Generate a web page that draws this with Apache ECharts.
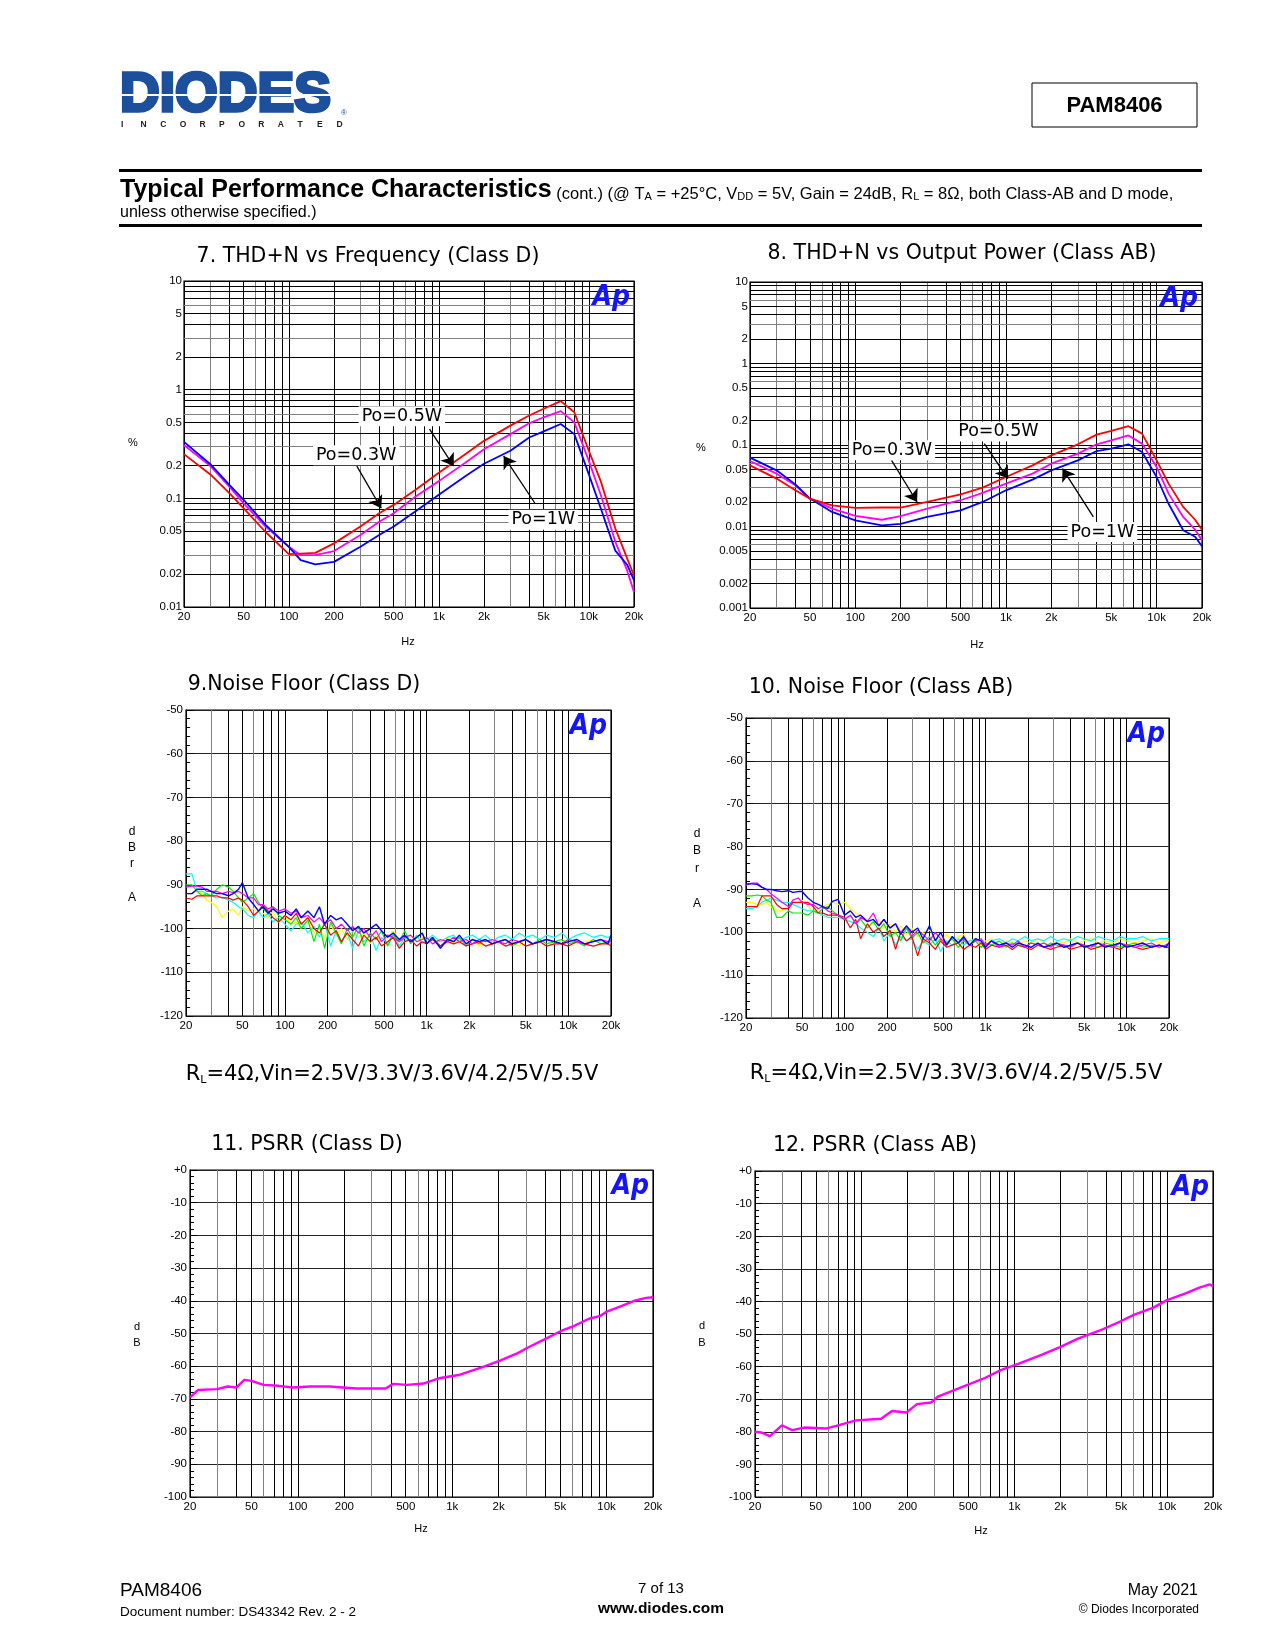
<!DOCTYPE html>
<html><head><meta charset="utf-8">
<script src="https://cdn.jsdelivr.net/npm/echarts@6/dist/echarts.min.js"></script>
<style>html,body{margin:0;padding:0;background:#fff}#c{width:1275px;height:1650px}</style>
</head><body><div id="c"></div>
<script>
// ---------------- DATA ----------------
// Fig 7: THD+N vs Frequency (Class D)
const thd7Freq = [20, 30, 40, 50, 70, 100, 120, 150, 200, 300, 400, 500, 700, 1000, 1500, 2000, 3000, 4000, 5000, 6500, 8000, 10000, 12000, 15000, 18000, 20000];
const thd7Red = [0.255, 0.166, 0.112, 0.081, 0.049, 0.0306, 0.031, 0.0315, 0.0385, 0.055, 0.073, 0.087, 0.12, 0.172, 0.255, 0.338, 0.467, 0.578, 0.667, 0.785, 0.62, 0.274, 0.144, 0.053, 0.028, 0.0195];
const thd7Magenta = [0.31, 0.198, 0.129, 0.09, 0.055, 0.0358, 0.030, 0.030, 0.0327, 0.046, 0.061, 0.073, 0.104, 0.144, 0.213, 0.283, 0.39, 0.49, 0.557, 0.634, 0.5, 0.221, 0.108, 0.040, 0.0217, 0.0137];
const thd7Blue = [0.331, 0.206, 0.134, 0.097, 0.057, 0.0358, 0.027, 0.0247, 0.026, 0.0358, 0.046, 0.055, 0.076, 0.108, 0.16, 0.208, 0.274, 0.363, 0.413, 0.483, 0.39, 0.166, 0.081, 0.033, 0.0245, 0.0176];
const thd7Labels = ['Po=0.5W', 'Po=0.3W', 'Po=1W'];
const thd7LabelAt = [[567, 0.569], [281, 0.249], [4970, 0.0634]];
const thd7Arrows = [[867, 0.434, 1256, 0.198], [284, 0.198, 413, 0.081], [4360, 0.0906, 2705, 0.245]];

// Fig 8: THD+N (Class AB)
const thd8Freq = [20, 30, 40, 50, 70, 100, 150, 200, 300, 500, 700, 1000, 1500, 2000, 3000, 4000, 5000, 6500, 8000, 10000, 12000, 15000, 18000, 20000];
const thd8Red = [0.0563, 0.0387, 0.0278, 0.022, 0.0182, 0.0169, 0.0171, 0.0171, 0.02, 0.0248, 0.03, 0.0405, 0.0563, 0.0746, 0.102, 0.134, 0.149, 0.17, 0.138, 0.0648, 0.0336, 0.0174, 0.0121, 0.00914];
const thd8Magenta = [0.0637, 0.0445, 0.032, 0.022, 0.0166, 0.0135, 0.0121, 0.0134, 0.0166, 0.021, 0.0258, 0.0336, 0.0445, 0.059, 0.0783, 0.102, 0.114, 0.131, 0.104, 0.0537, 0.0253, 0.0131, 0.00914, 0.00676];
const thd8Blue = [0.07, 0.0489, 0.0329, 0.022, 0.0151, 0.0119, 0.0103, 0.0108, 0.0131, 0.0158, 0.02, 0.0278, 0.0376, 0.0489, 0.0648, 0.0843, 0.0902, 0.102, 0.082, 0.0405, 0.019, 0.00898, 0.0075, 0.00571];
const thd8Labels = ['Po=0.5W', 'Po=0.3W', 'Po=1W'];
const thd8LabelAt = [[891, 0.146], [175, 0.0861], [4366, 0.00857]];
const thd8Arrows = [[718, 0.1038, 1031, 0.0387], [174, 0.0648, 257, 0.02], [3801, 0.0131, 2371, 0.0513]];

// Noise floor sweeps (shared frequency points)
const nfFreq = [
  20, 22, 24, 26, 28, 30, 33, 36, 40, 43, 47, 50,
  55, 60, 65, 70, 76, 82, 90, 100, 110, 120, 130, 145,
  160, 175, 190, 210, 230, 250, 275, 300, 330, 360, 400, 440,
  480, 530, 580, 640, 700, 770, 850, 930, 1000, 1100, 1250, 1400,
  1550, 1700, 1900, 2100, 2350, 2600, 2900, 3200, 3600, 4000, 4500, 5000,
  5600, 6300, 7000, 8000, 9000, 10000, 11500, 13000, 15000, 17000, 19000, 20000];

// Fig 9: Noise floor Class D
const nf9Cyan = [
  -87.5, -87.5, -91.5, -91.5, -92, -92.5, -93, -92.8, -93.5, -94, -95, -95.5,
  -97, -97.5, -96, -97.5, -96.5, -98.5, -97.5, -99, -100.5, -99, -98.5, -101,
  -99.5, -102, -98.5, -104, -100.5, -103, -101, -104.5, -100.5, -103, -101.5, -105,
  -102, -103.5, -101, -104, -102, -103, -101.5, -103.5, -102.5, -101.5, -103, -102,
  -101.5, -103, -102, -101.5, -102.5, -101.5, -103, -102, -101.5, -102.5, -101, -102,
  -101.5, -102.5, -101.5, -102, -101, -102.5, -101.5, -101, -102, -101.5, -102, -101.8];
const nf9Green = [
  -90, -90, -91.5, -92.5, -92, -92.5, -91, -90, -90.5, -91.5, -93, -94,
  -93, -92, -94, -95.5, -96.5, -95, -97, -98, -99, -97.5, -100, -98,
  -103, -99, -104.5, -98.5, -101, -103.5, -100, -102, -99.5, -104, -101, -102.5,
  -100.5, -104, -101.5, -103, -100.5, -103.5, -102, -101, -103.5, -102, -104, -102.5,
  -103, -102, -104, -102.5, -103.5, -102.5, -103.5, -103, -102.5, -104, -103, -102.5,
  -103.5, -102.5, -103.5, -103, -102.5, -103.5, -103, -104, -102.5, -103.5, -103, -103.5];
const nf9Yellow = [
  -92, -92, -91.5, -92, -93.5, -94, -95, -97.5, -96, -95.5, -97, -95,
  -96, -95.5, -96.5, -96.5, -97.5, -96, -98.5, -97, -99, -98.5, -100, -98,
  -101, -100, -102, -99, -101.5, -100, -102.5, -100.5, -102, -101, -103.5, -101.5,
  -103, -102, -100.5, -102.5, -103, -101.5, -103, -102, -103.5, -102.5, -103, -102,
  -103.5, -102.5, -103, -102.5, -104, -102.5, -103, -103.5, -102.5, -103, -104, -102.5,
  -103.5, -103, -102.5, -103.5, -103, -102.5, -103.5, -103, -102.5, -103, -103.5, -103];
const nf9Red = [
  -93, -93.3, -92.5, -92.5, -92.5, -92.5, -92.5, -93, -93, -93.5, -93, -93.5,
  -95, -97, -96, -94.5, -96, -97.5, -98.5, -97, -98, -96.5, -99, -97.5,
  -100, -101, -99, -101.5, -100.5, -103, -101, -102.5, -104, -101.5, -103, -102,
  -104, -103, -102, -104.5, -103, -102.5, -104, -103, -103.5, -102.5, -104, -103,
  -103.5, -103, -104, -103.5, -103, -104, -103.5, -103, -104, -103.5, -103, -104,
  -103.5, -103, -104, -103.5, -103.5, -104, -103, -103.5, -104, -103.5, -103.5, -104];
const nf9Magenta = [
  -90.5, -90.3, -90.3, -90.5, -91.5, -91.5, -91.5, -92, -91.5, -91.8, -91.5, -92,
  -93, -93, -94.5, -94.5, -95.5, -95, -96, -95.5, -96.5, -96, -97.5, -97,
  -98.5, -97.5, -99, -98, -100, -99, -100.5, -99.5, -101, -100, -102, -100.5,
  -103, -101.5, -102, -103, -102, -101.5, -103, -102.5, -102, -103.5, -102.5, -103,
  -102, -103, -102.5, -103.5, -102.5, -103, -102.5, -103, -103.5, -102.5, -103, -102.5,
  -103.5, -103, -102.5, -103, -103.5, -102.5, -103, -103.5, -103, -102.5, -103, -103];
const nf9Blue = [
  -92, -92, -91, -91, -91, -91.5, -92, -92, -92.5, -92, -91, -89.5,
  -93, -94.5, -96, -95, -96.5, -95.5, -96.5, -96, -97, -95.5, -97.5, -96,
  -97.5, -95, -99, -97, -98, -97.5, -99, -100.5, -99.5, -101, -100, -99,
  -100.5, -102, -101, -102.5, -101.5, -103, -102, -101, -103.5, -102, -104.5, -102.5,
  -103, -101.5, -103.5, -102.5, -103, -102.5, -103.5, -103, -102.5, -103.5, -103, -102.5,
  -103.5, -103, -102.5, -103, -103.5, -103, -102.5, -103.5, -103, -102.5, -103.5, -101.5];

// Fig 10: Noise floor Class AB
const nf10Blue = [
  -88.7, -88.7, -88.8, -89.5, -90, -90, -90.3, -90.5, -90.3, -90.7, -90.5, -90.5,
  -92, -93, -93.5, -94, -94.5, -92.8, -92.3, -96, -95, -96.5, -96, -97.5,
  -97, -98.5, -97, -99, -98, -100.5, -98.5, -100, -99, -101.5, -98.5, -102,
  -100, -103, -101, -102.5, -101, -103, -101.5, -102, -103.5, -102, -103, -102.5,
  -103.5, -102.5, -103, -103.5, -102.5, -103.5, -103, -102.5, -103.5, -103, -102.5, -103.5,
  -103, -102.5, -103.5, -103, -102.5, -103.5, -103, -102.5, -103.5, -103, -103.5, -102.5];
const nf10Magenta = [
  -89, -88.5, -88.5, -89.5, -90, -91, -92, -93, -94, -92.5, -92, -93,
  -93.5, -93.5, -94.5, -94, -95, -95.5, -96, -97, -96, -98, -96.5, -97.5,
  -95.5, -98.5, -97, -99, -98, -100, -98.5, -101, -99.5, -100.5, -102, -100,
  -101.5, -103, -101, -102.5, -101.5, -103, -102, -101.5, -103, -102, -103.5, -102.5,
  -103, -102, -103.5, -102.5, -103, -102.5, -103.5, -102.5, -103, -103.5, -102.5, -103,
  -103.5, -102.5, -103, -103.5, -102.5, -103, -103.5, -103, -102.5, -103.5, -103, -102.5];
const nf10Green = [
  -91.5, -91.5, -91.3, -91.5, -92.5, -93, -96.5, -96.5, -95, -95.5, -95.5, -95.5,
  -96, -95, -95.5, -94.5, -94, -95, -96, -97, -96, -98, -97, -99,
  -97.5, -99.5, -98, -101, -100, -102, -99, -101.5, -100, -102.5, -101, -103,
  -101.5, -102.5, -101.5, -103.5, -102, -103, -102, -103.5, -102.5, -103, -102, -103.5,
  -102.5, -103, -103.5, -102.5, -103, -103.5, -102.5, -103, -103.5, -103, -102.5, -103.5,
  -103, -103.5, -102.5, -103, -103.5, -103, -102.5, -103.5, -103, -103.5, -103, -103];
const nf10Red = [
  -94, -94, -94, -91.5, -91.5, -91.5, -93.5, -94.5, -94.5, -93, -93, -93,
  -93, -94, -95.5, -95.5, -96, -96, -96, -96.5, -99, -97, -101.5, -98,
  -100, -99, -101, -99.5, -104, -100, -102, -101, -105.5, -101.5, -102.5, -104,
  -102, -103.5, -103, -102.5, -104, -103, -103.5, -102.5, -104, -103, -103.5, -103,
  -104, -103, -103.5, -104, -103, -103.5, -104, -103.5, -103, -104, -103.5, -103,
  -104, -103.5, -103, -103.5, -104, -103, -103.5, -104, -103.5, -103, -103.5, -103.5];
const nf10Cyan = [
  -94.5, -94.5, -94, -93, -92.5, -92, -92.5, -93, -93, -93.5, -94, -94.5,
  -95, -95, -95.5, -96, -96.5, -96.5, -96.5, -97, -97.5, -98, -99, -100,
  -101, -99, -102, -100, -103, -101, -102, -101.5, -104, -102, -103, -101.5,
  -104.5, -102, -103, -101.5, -103, -102, -101.5, -102.5, -103, -102, -101.5, -102.5,
  -101.5, -102, -101, -102, -101.5, -102, -101, -102, -101.5, -102, -101, -101.5,
  -102, -101, -101.5, -102, -101, -101.5, -101.5, -101, -102, -101.5, -101.5, -101.5];
const nf10Yellow = [
  -93, -93, -93.5, -93.5, -93, -94, -95, -95, -94, -93.5, -93, -92.5,
  -94, -95, -94.5, -94, -93.5, -93, -93.5, -93, -94.5, -95.5, -96, -97,
  -98, -97, -99, -98, -100, -98.5, -100.5, -99, -101, -100, -99.5, -101,
  -102, -100.5, -102, -101, -100.5, -102.5, -101.5, -103, -102, -101.5, -103, -102,
  -102.5, -103, -102, -102.5, -101.5, -102.5, -103, -102, -102.5, -101.5, -102.5, -102,
  -101.5, -102.5, -102, -102.5, -101.5, -102, -102.5, -102, -101.5, -102.5, -102, -102];

// Fig 11: PSRR Class D
const psrrDFreq = [20, 22.5, 30, 35, 40, 45, 50, 60, 75, 93, 120, 160, 240, 370, 415, 510, 650, 820, 1100, 1570, 2040, 2660, 3120, 3960, 5030, 6070, 7700, 9040, 10050, 12450, 15400, 18100, 20000];
const psrrD = [-69.5, -67.3, -67, -66.2, -66.5, -64.2, -64.5, -65.7, -66, -66.5, -66.2, -66.2, -66.8, -66.8, -65.4, -65.7, -65.3, -63.7, -62.7, -60.3, -58.3, -56, -54.2, -51.8, -49.3, -47.8, -45.5, -44.7, -43.3, -41.6, -39.9, -39.1, -38.9];
// Fig 12: PSRR Class AB
const psrrABFreq = [20, 22, 25, 30, 35, 42, 58, 68, 92, 134, 158, 196, 230, 285, 318, 416, 488, 640, 815, 1070, 1520, 1990, 2610, 3600, 4970, 6160, 8070, 10000, 13100, 16300, 19100, 20000];
const psrrAB = [-80, -80.2, -81.3, -78, -79.5, -78.7, -79, -78.2, -76.5, -76, -73.6, -74.1, -71.5, -71, -69.1, -67, -65.7, -63.5, -61.1, -59.1, -56.3, -54, -51.4, -49, -46.1, -44, -42, -39.6, -37.6, -35.8, -34.8, -35.3];

// Tick labels
const xTickVals = [20, 50, 100, 200, 500, 1000, 2000, 5000, 10000, 20000];
const xTickLabels = ['20', '50', '100', '200', '500', '1k', '2k', '5k', '10k', '20k'];
const yTick7 = [10, 5, 2, 1, 0.5, 0.2, 0.1, 0.05, 0.02, 0.01];
const yTick7Labels = ['10', '5', '2', '1', '0.5', '0.2', '0.1', '0.05', '0.02', '0.01'];
const yTick8 = [10, 5, 2, 1, 0.5, 0.2, 0.1, 0.05, 0.02, 0.01, 0.005, 0.002, 0.001];
const yTick8Labels = ['10', '5', '2', '1', '0.5', '0.2', '0.1', '0.05', '0.02', '0.01', '0.005', '0.002', '0.001'];

// ---------------- LAYOUT / STYLE ----------------
const FONT = '"Liberation Sans", Arial, Helvetica, sans-serif';
const WIDE = '"DejaVu Sans", "Liberation Sans", sans-serif';
const COND = '"DejaVu Sans Condensed", "DejaVu Sans", "Liberation Sans", sans-serif';
const layout = [
  { left: 184, top: 281, width: 450, height: 326 },
  { left: 750, top: 282, width: 452, height: 326 },
  { left: 186, top: 710, width: 425, height: 306 },
  { left: 746, top: 718, width: 423, height: 300 },
  { left: 190, top: 1170, width: 463, height: 327 },
  { left: 755, top: 1171, width: 458, height: 326 }
];
const yRanges = [[0.01, 10], [0.001, 10], [-120, -50], [-120, -50], [-100, 0], [-100, 0]];
const C = { red: '#ff0000', magenta: '#ff00ff', blue: '#0000ff', green: '#00ee00', yellow: '#ffff00', cyan: '#00ffff' };

function logValues(min, max) {
  const out = [];
  for (let e = -4; e <= 5; e++) {
    for (let m = 1; m <= 9; m++) {
      const v = parseFloat((m * Math.pow(10, e)).toPrecision(6));
      if (v >= min * 0.9999 && v <= max * 1.0001) out.push({ v, m });
    }
  }
  return out;
}
const labelStyle = { fontSize: 11.5, color: '#000', fontFamily: FONT };

function gridSeries(i, yLog, yTicks, yTickLabels) {
  const [yMin, yMax] = yRanges[i];
  const lines = [];
  logValues(20, 20000).forEach(({ v, m }) => {
    const li = xTickVals.indexOf(v);
    lines.push([
      { coord: [v, yMin], lineStyle: { color: (m === 3 || m === 6) ? '#808080' : '#000' },
        label: li >= 0 ? Object.assign({ show: true, position: 'start', distance: 4, formatter: xTickLabels[li] }, labelStyle) : { show: false } },
      { coord: [v, yMax] }
    ]);
  });
  if (yLog) {
    logValues(yMin, yMax).forEach(({ v, m }) => {
      const li = yTicks.indexOf(v);
      lines.push([
        { coord: [20, v], lineStyle: { color: (m === 3 || m === 6) ? '#808080' : '#000' },
          label: li >= 0 ? Object.assign({ show: true, position: 'start', distance: 2, formatter: yTickLabels[li] }, labelStyle) : { show: false } },
        { coord: [20000, v] }
      ]);
    });
  }
  return {
    type: 'line', xAxisIndex: i, yAxisIndex: i, data: [], silent: true, animation: false,
    markLine: {
      silent: true, animation: false, z: 1, symbol: ['none', 'none'],
      lineStyle: { type: 'solid', width: 1, color: '#000' },
      label: { show: false }, emphasis: { disabled: true },
      data: lines
    }
  };
}

function curve(i, freqs, vals, color, width, extra) {
  return Object.assign({
    type: 'line', xAxisIndex: i, yAxisIndex: i,
    data: freqs.map((f, k) => [f, vals[k]]),
    showSymbol: false, symbol: 'none', silent: true, animation: false, z: 3,
    lineStyle: { color: color, width: width }, itemStyle: { color: color }
  }, extra || {});
}

function labelMarks(labels, at) {
  return {
    silent: true, animation: false, symbol: 'rect', symbolSize: 1,
    itemStyle: { color: 'rgba(0,0,0,0)' },
    label: { show: true, position: 'inside', formatter: '{b}', fontSize: 17.5, color: '#000',
      backgroundColor: '#fff', padding: [1, 3], fontFamily: WIDE },
    data: labels.map((t, k) => ({ name: t, coord: at[k] }))
  };
}
function arrowMarks(arrows) {
  return {
    silent: true, animation: false, symbol: ['none', 'arrow'], symbolSize: 12,
    lineStyle: { color: '#000', width: 1.3, type: 'solid' }, label: { show: false },
    emphasis: { disabled: true },
    data: arrows.map(a => [{ coord: [a[0], a[1]] }, { coord: [a[2], a[3]] }])
  };
}

const series = [
  gridSeries(0, true, yTick7, yTick7Labels),
  gridSeries(1, true, yTick8, yTick8Labels),
  gridSeries(2, false), gridSeries(3, false), gridSeries(4, false), gridSeries(5, false),
  curve(0, thd7Freq, thd7Magenta, C.magenta, 1.8),
  curve(0, thd7Freq, thd7Blue, C.blue, 1.8, { markLine: arrowMarks(thd7Arrows) }),
  curve(0, thd7Freq, thd7Red, C.red, 1.8, { markPoint: labelMarks(thd7Labels, thd7LabelAt) }),
  curve(1, thd8Freq, thd8Magenta, C.magenta, 1.8),
  curve(1, thd8Freq, thd8Blue, C.blue, 1.8, { markLine: arrowMarks(thd8Arrows) }),
  curve(1, thd8Freq, thd8Red, C.red, 1.8, { markPoint: labelMarks(thd8Labels, thd8LabelAt) }),
  curve(2, nfFreq, nf9Yellow, C.yellow, 1.2),
  curve(2, nfFreq, nf9Cyan, C.cyan, 1.2),
  curve(2, nfFreq, nf9Green, C.green, 1.2),
  curve(2, nfFreq, nf9Red, C.red, 1.2),
  curve(2, nfFreq, nf9Magenta, C.magenta, 1.2),
  curve(2, nfFreq, nf9Blue, C.blue, 1.4),
  curve(3, nfFreq, nf10Yellow, C.yellow, 1.2),
  curve(3, nfFreq, nf10Cyan, C.cyan, 1.2),
  curve(3, nfFreq, nf10Green, C.green, 1.2),
  curve(3, nfFreq, nf10Red, C.red, 1.2),
  curve(3, nfFreq, nf10Magenta, C.magenta, 1.2),
  curve(3, nfFreq, nf10Blue, C.blue, 1.4),
  curve(4, psrrDFreq, psrrD, C.magenta, 2.4),
  curve(5, psrrABFreq, psrrAB, C.magenta, 2.4)
];

const xAxis = layout.map((g, i) => ({
  type: 'log', logBase: 10, gridIndex: i, min: 20, max: 20000,
  axisLine: { show: false }, axisTick: { show: false }, axisLabel: { show: false },
  splitLine: { show: false }, minorTick: { show: false }, minorSplitLine: { show: false }
}));
const yAxis = layout.map((g, i) => {
  const [mn, mx] = yRanges[i];
  if (i < 2) {
    return { type: 'log', logBase: 10, gridIndex: i, min: mn, max: mx,
      axisLine: { show: false }, axisTick: { show: false }, axisLabel: { show: false },
      splitLine: { show: false }, minorTick: { show: false }, minorSplitLine: { show: false } };
  }
  return {
    type: 'value', gridIndex: i, min: mn, max: mx, interval: 10,
    axisLine: { show: true, lineStyle: { color: '#000', width: 1 } },
    axisTick: { show: true, inside: true, length: 7, lineStyle: { color: '#000' } },
    minorTick: { show: true, splitNumber: 5, length: 4, lineStyle: { color: '#000' } },
    axisLabel: Object.assign({ margin: 3, formatter: v => (v === 0 ? '+0' : String(v)) }, labelStyle),
    splitLine: { show: true, lineStyle: { color: '#222', width: 1 } }
  };
});

// ---------------- TEXT / DECORATION ----------------
const gfx = [];
function txt(x, y, text, o) {
  gfx.push(Object.assign({ type: 'text', x: x, y: y, silent: true, z: 50,
    style: Object.assign({ text: text, fontFamily: FONT, fontSize: 12, fill: '#000', align: 'left', verticalAlign: 'middle' }, o || {}) }));
}
// logo
txt(120, 96, 'DIODES', { fontSize: 55, fontWeight: 'bold', fill: '#1c4f9c', stroke: '#1c4f9c', lineWidth: 3.5, fontFamily: FONT });
gfx.push({ type: 'rect', silent: true, z: 51, shape: { x: 118, y: 94, width: 226, height: 2 }, style: { fill: '#fff' } });
txt(341, 113, '®', { fontSize: 8, fill: '#1c4f9c' });
'INCORPORATED'.split('').forEach((ch, k) => txt(121 + k * 19.6, 125, ch, { fontSize: 8.5, fontWeight: 'bold', fill: '#222' }));
// part box
gfx.push({ type: 'rect', silent: true, z: 50, shape: { x: 1032, y: 83, width: 165, height: 44 }, style: { fill: 'none', stroke: '#000', lineWidth: 1 } });
txt(1114.5, 106, 'PAM8406', { fontSize: 22, fontWeight: 'bold', align: 'center' });
// rules
gfx.push({ type: 'rect', silent: true, z: 50, shape: { x: 119, y: 169, width: 1083, height: 3 }, style: { fill: '#000' } });
gfx.push({ type: 'rect', silent: true, z: 50, shape: { x: 119, y: 224, width: 1083, height: 3 }, style: { fill: '#000' } });
txt(120, 189, '{b|Typical Performance Characteristics}{n| (cont.) (@ T}{s|A}{n| = +25°C, V}{s|DD}{n| = 5V, Gain = 24dB, R}{s|L}{n| = 8Ω, both Class-AB and D mode,}', {
  rich: {
    b: { fontSize: 25, fontWeight: 'bold', fontFamily: FONT, verticalAlign: 'bottom', lineHeight: 27 },
    n: { fontSize: 16.5, fontFamily: FONT, verticalAlign: 'bottom', lineHeight: 21 },
    s: { fontSize: 11, fontFamily: FONT, verticalAlign: 'bottom', lineHeight: 7 }
  }
});
txt(120, 213, 'unless otherwise specified.)', { fontSize: 16 });

// chart titles
const titleStyle = { fontSize: 20.5, align: 'center', fontFamily: WIDE };
txt(368, 257, '7. THD+N vs Frequency (Class D)', titleStyle);
txt(962, 254, '8. THD+N vs Output Power (Class AB)', titleStyle);
txt(304, 685, '9.Noise Floor (Class D)', titleStyle);
txt(881, 688, '10. Noise Floor (Class AB)', titleStyle);
txt(307, 1145, '11. PSRR (Class D)', titleStyle);
txt(875, 1146, '12. PSRR (Class AB)', titleStyle);

// axis unit letters
txt(133, 443, '%', { fontSize: 11, align: 'center' });
txt(701, 448, '%', { fontSize: 11, align: 'center' });
[['d', 832], ['B', 848], ['r', 864], ['A', 898]].forEach(([c, y]) => txt(132, y, c, { fontSize: 12, align: 'center' }));
[['d', 834], ['B', 851], ['r', 869], ['A', 904]].forEach(([c, y]) => txt(697, y, c, { fontSize: 12, align: 'center' }));
[['d', 1327], ['B', 1343]].forEach(([c, y]) => txt(137, y, c, { fontSize: 11, align: 'center' }));
[['d', 1326], ['B', 1343]].forEach(([c, y]) => txt(702, y, c, { fontSize: 11, align: 'center' }));
txt(408, 642, 'Hz', { fontSize: 11, align: 'center' });
txt(977, 645, 'Hz', { fontSize: 11, align: 'center' });
txt(421, 1529, 'Hz', { fontSize: 11, align: 'center' });
txt(981, 1531, 'Hz', { fontSize: 11, align: 'center' });

// noise captions
const capRich = {
  a: { fontSize: 21, fontFamily: WIDE, verticalAlign: 'bottom', lineHeight: 25 },
  s: { fontSize: 11, fontFamily: WIDE, verticalAlign: 'bottom', lineHeight: 4 }
};
txt(392, 1073, '{a|R}{s|L}{a|=4Ω,Vin=2.5V/3.3V/3.6V/4.2/5V/5.5V}', { align: 'center', rich: capRich });
txt(956, 1072, '{a|R}{s|L}{a|=4Ω,Vin=2.5V/3.3V/3.6V/4.2/5V/5.5V}', { align: 'center', rich: capRich });

// Ap marks
layout.forEach(g => txt(g.left + g.width - 4, g.top + 3, 'Ap', {
  fontSize: 28, fontWeight: 'bold', fontStyle: 'italic', fill: '#1414ff',
  fontFamily: COND, align: 'right', verticalAlign: 'top'
}));

// footer
txt(120, 1591, 'PAM8406', { fontSize: 19 });
txt(120, 1612, 'Document number: DS43342 Rev. 2 - 2', { fontSize: 13.5 });
txt(661, 1589, '7 of 13', { fontSize: 15, align: 'center' });
txt(661, 1609, 'www.diodes.com', { fontSize: 15.5, fontWeight: 'bold', align: 'center' });
txt(1198, 1591, 'May 2021', { fontSize: 16, align: 'right' });
txt(1199, 1610, '© Diodes Incorporated', { fontSize: 12, align: 'right' });

// ---------------- CHART ----------------
const chart = echarts.init(document.getElementById('c'), null, { renderer: 'canvas', width: 1275, height: 1650 });
chart.setOption({
  backgroundColor: '#fff',
  animation: false,
  grid: layout.map(g => ({ left: g.left, top: g.top, width: g.width, height: g.height, show: true,
    borderColor: '#000', borderWidth: 1.2, backgroundColor: 'rgba(0,0,0,0)', containLabel: false, outerBoundsMode: 'none' })),
  xAxis: xAxis,
  yAxis: yAxis,
  series: series,
  graphic: { elements: gfx }
});
</script>
</body></html>
